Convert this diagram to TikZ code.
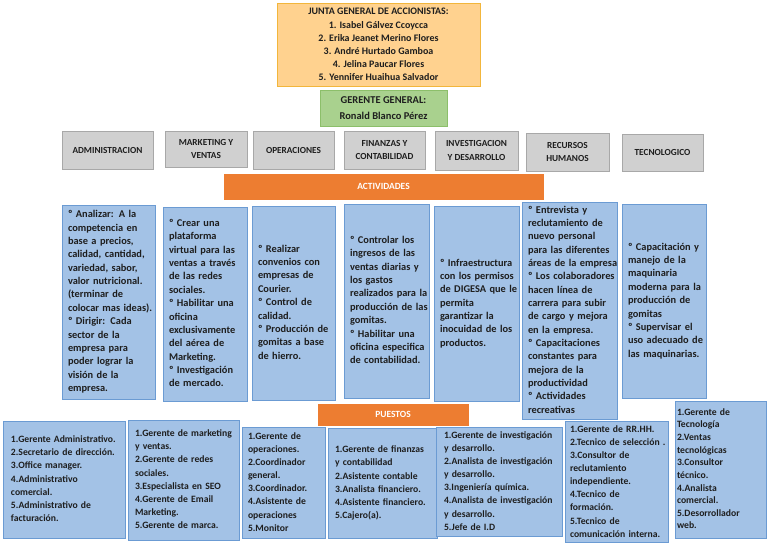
\documentclass[tikz,border=0pt]{standalone}
\usepackage{fontspec}
\setmainfont{Carlito}
\usetikzlibrary{positioning}
\definecolor{txt}{HTML}{1E1E1E}
\definecolor{juntaF}{HTML}{FFD28F}
\definecolor{juntaD}{HTML}{F2B63C}
\definecolor{genF}{HTML}{A9D18E}
\definecolor{genD}{HTML}{8CBF6A}
\definecolor{grayF}{HTML}{D0D0D0}
\definecolor{grayD}{HTML}{A8A8A8}
\definecolor{barF}{HTML}{ED7D31}
\definecolor{blueF}{HTML}{A3C2E6}
\definecolor{blueD}{HTML}{6B9BD3}
\newcommand\tb[1]{\begin{tabular}{@{}l@{}}#1\end{tabular}}
\begin{document}
\begin{tikzpicture}[x=1bp,y=-1bp,
  base/.style={draw, line width=0.8bp, inner ysep=0pt, text=txt, font=\bfseries},
  junta/.style={base, fill=juntaF, draw=juntaD, align=center, font=\bfseries\fontsize{10}{13.2}\selectfont},
  gen/.style={base, fill=genF, draw=genD, align=center, font=\bfseries\fontsize{10.5}{16}\selectfont},
  area/.style={base, fill=grayF, draw=grayD, align=center, inner xsep=0pt, font=\bfseries\fontsize{9.3}{14}\selectfont},
  bar/.style={base, fill=barF, draw=barF, text=white, font=\bfseries\fontsize{9.5}{11}\selectfont},
  act/.style={base, fill=blueF, draw=blueD, align=left, font=\bfseries\fontsize{10.4}{13.4}\selectfont},
  pue/.style={base, fill=blueF, draw=blueD, align=left, font=\bfseries\fontsize{9.7}{13.2}\selectfont}
]
\useasboundingbox (0,0) rectangle (768,543);

% Top
\node[junta, minimum width=203bp, minimum height=83bp] (junta) at (378.5,44.5)
  {JUNTA GENERAL DE ACCIONISTAS:\\1. Isabel Gálvez Ccoycca\\2. Erika Jeanet Merino Flores\\3. André Hurtado Gamboa\\4. Jelina Paucar Flores\\5. Yennifer Huaihua Salvador};
\node[gen, minimum width=127bp, minimum height=36bp] (gerente) at (383.5,108)
  {GERENTE GENERAL:\\Ronald Blanco Pérez};

% Areas
\node[area, minimum width=91bp, minimum height=38bp] (h1) at (107.5,150) {ADMINISTRACION};
\node[area, minimum width=82bp, minimum height=36bp] (h2) at (206,149) {MARKETING Y\\VENTAS};
\node[area, minimum width=81bp, minimum height=38bp] (h3) at (293.5,150) {OPERACIONES};
\node[area, minimum width=81bp, minimum height=38bp] (h4) at (384.5,150) {FINANZAS Y\\CONTABILIDAD};
\node[area, minimum width=83bp, minimum height=39bp] (h5) at (476.5,150.5) {INVESTIGACION\\Y DESARROLLO};
\node[area, minimum width=83bp, minimum height=38bp] (h6) at (567.5,152) {RECURSOS\\HUMANOS};
\node[area, minimum width=81bp, minimum height=37bp] (h7) at (662.5,152.5) {TECNOLOGICO};

\node[bar, minimum width=319bp, minimum height=25bp] (actividades) at (383.5,186.5) {ACTIVIDADES};

% Activities
\node[act, text width=81bp, inner xsep=6bp, minimum height=194bp] (a1) at (108.5,302) {\tb{º Analizar: A la\\competencia en\\base a precios,\\calidad, cantidad,\\variedad, sabor,\\valor nutricional.\\(terminar de\\colocar mas ideas).\\º Dirigir: Cada\\sector de la\\empresa para\\poder lograr la\\visión de la\\empresa.}};
\node[act, text width=72bp, inner xsep=6bp, minimum height=194bp] (a2) at (205,304) {\tb{º Crear una\\plataforma\\virtual para las\\ventas a través\\de las redes\\sociales.\\º Habilitar una\\oficina\\exclusivamente\\del aérea de\\Marketing.\\º Investigación\\de mercado.}};
\node[act, text width=71bp, inner xsep=6bp, minimum height=194bp] (a3) at (293.5,303) {\tb{º Realizar\\convenios con\\empresas de\\Courier.\\º Control de\\calidad.\\º Producción de\\gomitas a base\\de hierro.}};
\node[act, text width=73bp, inner xsep=6bp, minimum height=194bp] (a4) at (386.5,301) {\tb{º Controlar los\\ingresos de las\\ventas diarias y\\los gastos\\realizados para la\\producción de las\\gomitas.\\º Habilitar una\\oficina especifica\\de contabilidad.}};
\node[act, text width=73bp, inner xsep=6bp, minimum height=195bp] (a5) at (476.5,303.5) {\tb{º Infraestructura\\con los permisos\\de DIGESA que le\\permita\\garantizar la\\inocuidad de los\\productos.}};
\node[act, text width=83bp, inner xsep=6bp, minimum height=217bp] (a6) at (569.5,310.5) {\tb{º Entrevista y\\reclutamiento de\\nuevo personal\\para las diferentes\\áreas de la empresa\\º Los colaboradores\\hacen línea de\\carrera para subir\\de cargo y mejora\\en la empresa.\\º Capacitaciones\\constantes para\\mejora de la\\productividad\\º Actividades\\recreativas}};
\node[act, text width=72bp, inner xsep=6bp, minimum height=194bp] (a7) at (664,301) {\tb{º Capacitación y\\manejo de la\\maquinaria\\moderna para la\\producción de\\gomitas\\º Supervisar el\\uso adecuado de\\las maquinarias.}};

\node[bar, minimum width=150bp, minimum height=21bp] (puestos) at (393,414.5) {PUESTOS};

% Positions
\node[pue, text width=106bp, inner xsep=8bp, minimum height=117bp] (p1) at (64,479.5) {\tb{1.Gerente Administrativo.\\2.Secretario de dirección.\\3.Office manager.\\4.Administrativo\\comercial.\\5.Administrativo de\\facturación.}};
\node[pue, text width=97bp, inner xsep=7bp, minimum height=120bp] (p2) at (183.5,480) {\tb{1.Gerente de marketing\\y ventas.\\2.Gerente de redes\\sociales.\\3.Especialista en SEO\\4.Gerente de Email\\Marketing.\\5.Gerente de marca.}};
\node[pue, text width=71bp, inner xsep=6bp, minimum height=111bp] (p3) at (283.5,482.5) {\tb{1.Gerente de\\operaciones.\\2.Coordinador\\general.\\3.Coordinador.\\4.Asistente de\\operaciones\\5.Monitor}};
\node[pue, text width=95bp, inner xsep=7bp, minimum height=110bp] (p4) at (382.5,483) {\tb{1.Gerente de finanzas\\y contabilidad\\2.Asistente contable\\3.Analista financiero.\\4.Asistente financiero.\\5.Cajero(a).}};
\node[pue, text width=110bp, inner xsep=8bp, minimum height=109bp] (p5) at (499,481.5) {\tb{1.Gerente de investigación\\y desarrollo.\\2.Analista de investigación\\y desarrollo.\\3.Ingeniería química.\\4.Analista de investigación\\y desarrollo.\\5.Jefe de I.D}};
\node[pue, text width=93bp, inner xsep=5bp, minimum height=121bp] (p6) at (616.5,482) {\tb{1.Gerente de RR.HH.\\2.Tecnico de selección .\\3.Consultor de\\reclutamiento\\independiente.\\4.Tecnico de\\formación.\\5.Tecnico de\\comunicación interna.}};
\node[pue, text width=87bp, inner xsep=2bp, minimum height=137bp, font=\bfseries\fontsize{9.7}{12.7}\selectfont] (p7) at (720.5,469.5) {\tb{1.Gerente de\\Tecnología\\2.Ventas\\tecnológicas\\3.Consultor\\técnico.\\4.Analista\\comercial.\\5.Desorrollador\\web.}};
\end{tikzpicture}
\end{document}
